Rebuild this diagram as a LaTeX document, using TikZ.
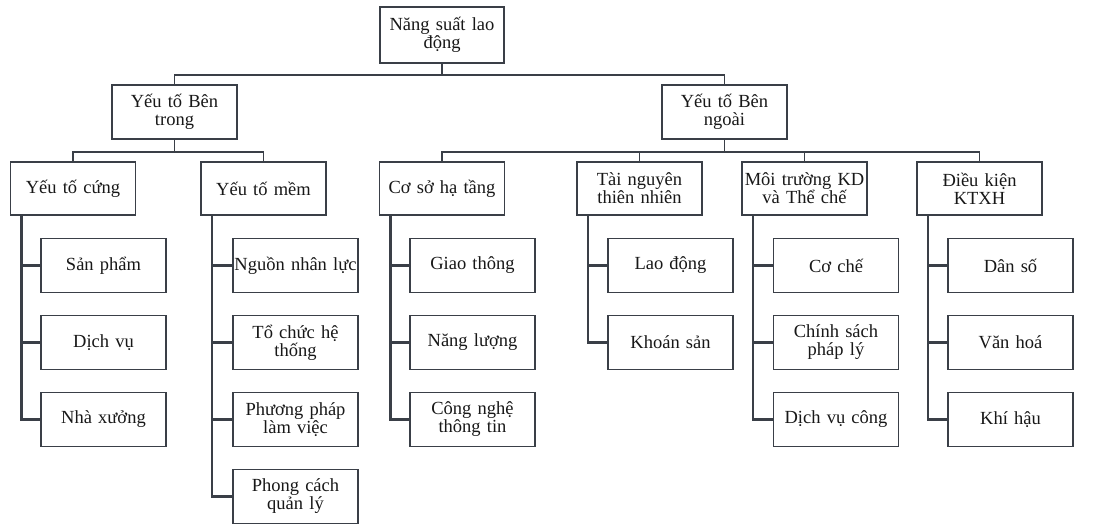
\documentclass[tikz,border=0pt]{standalone}
\usepackage{fontspec}
\setmainfont{Liberation Serif}
\begin{document}
\begin{tikzpicture}[x=1pt,y=-1pt,
  ln/.style={draw=lineC, line width=1.9pt},
  box/.style={draw=lineC, line width=1.7pt, fill=white, text=textC,
    minimum width=125pt, minimum height=54pt, text width=123pt,
    inner sep=0pt, align=center,
    font=\fontsize{18.5}{18}\selectfont},
  tree/.style={draw=lineC, line width=2.4pt}]
\definecolor{lineC}{HTML}{3A3F47}
\definecolor{textC}{HTML}{181818}
\useasboundingbox (0,0) rectangle (1101,525);

% top levels
\node[box, minimum width=124pt, minimum height=56pt] (root) at (442,35) {Năng suất lao\\động};
\node[box] (bt) at (174.5,112) {Yếu tố Bên\\trong};
\node[box] (bn) at (724.5,112) {Yếu tố Bên\\ngoài};

% third level
\node[box, minimum height=53pt] (cung) at (73,188.5) {Yếu tố cứng};
\node[box, minimum height=53pt] (mem)  at (263.5,188.5) {Yếu tố mềm};
\node[box, minimum height=53pt] (csht) at (442,188.5) {Cơ sở hạ tầng};
\node[box, minimum height=53pt] (tn)   at (639.5,188.5) {Tài nguyên\\thiên nhiên};
\node[box, minimum height=53pt] (mt)   at (804.5,188.5) {Môi trường KD\\và Thể chế};
\node[box, minimum height=53pt] (dk)   at (979.5,188.5) {Điều kiện\\KTXH};

% leaves
\node[box] (sp)  at (103.5,265.5) {Sản phẩm};
\node[box] (dv)  at (103.5,342.5) {Dịch vụ};
\node[box] (nx)  at (103.5,419.5) {Nhà xưởng};

\node[box] (nnl) at (295.5,265.5) {Nguồn nhân lực};
\node[box] (tc)  at (295.5,342.5) {Tổ chức hệ\\thống};
\node[box] (pp)  at (295.5,419.5) {Phương pháp\\làm việc};
\node[box] (pc)  at (295.5,496.5) {Phong cách\\quản lý};

\node[box] (gt)  at (472.5,265.5) {Giao thông};
\node[box] (nl)  at (472.5,342.5) {Năng lượng};
\node[box] (cn)  at (472.5,419.5) {Công nghệ\\thông tin};

\node[box] (ld)  at (670.5,265.5) {Lao động};
\node[box] (ks)  at (670.5,342.5) {Khoán sản};

\node[box] (cc)  at (836,265.5) {Cơ chế};
\node[box] (cs)  at (836,342.5) {Chính sách\\pháp lý};
\node[box] (dvc) at (836,419.5) {Dịch vụ công};

\node[box] (ds)  at (1010.5,265.5) {Dân số};
\node[box] (vh)  at (1010.5,342.5) {Văn hoá};
\node[box] (kh)  at (1010.5,419.5) {Khí hậu};

% bus connectors between levels
\draw[ln] (root.south) -- ([yshift=-11pt]root.south) -| (bt.north);
\draw[ln] ([yshift=-11pt]root.south) -| (bn.north);

\draw[ln] (bt.south) -- ([yshift=-12pt]bt.south) -| (cung.north);
\draw[ln] ([yshift=-12pt]bt.south) -| (mem.north);

\draw[ln] (bn.south) -- ([yshift=-12pt]bn.south) -| (csht.north);
\draw[ln] ([yshift=-12pt]bn.south) -| (tn.north);
\draw[ln] ([yshift=-12pt]bn.south) -| (mt.north);
\draw[ln] ([yshift=-12pt]bn.south) -| (dk.north);

% trunks down to the leaves
\foreach \p/\leaves in {cung/{sp,dv,nx}, mem/{nnl,tc,pp,pc}, csht/{gt,nl,cn},
                        tn/{ld,ks}, mt/{cc,cs,dvc}, dk/{ds,vh,kh}} {
  \foreach \l in \leaves {
    \draw[tree] ([xshift=12pt]\p.south west) |- (\l.west);
  }
}
\end{tikzpicture}
\end{document}
